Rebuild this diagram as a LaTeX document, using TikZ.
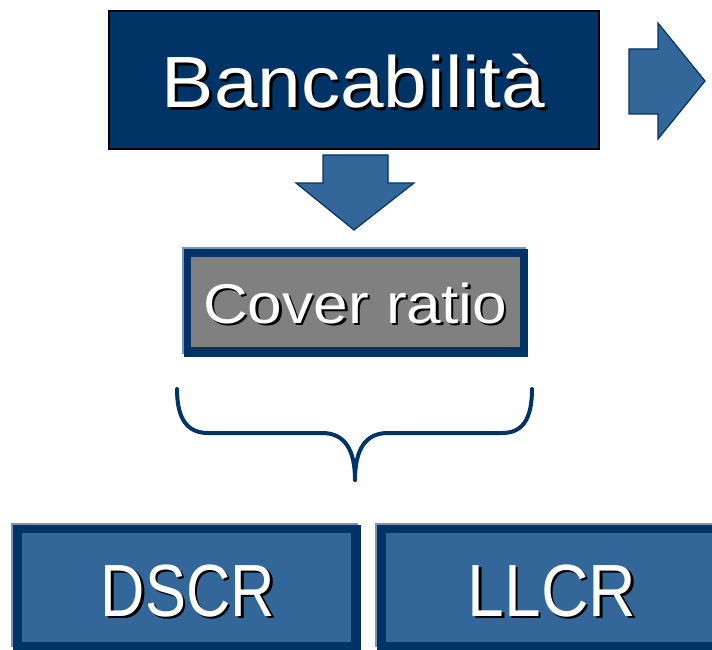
\documentclass[tikz,border=0pt]{standalone}
\usepackage{fontspec}
\setmainfont{Liberation Sans}
\definecolor{navy}{RGB}{0,51,102}
\definecolor{steel}{RGB}{51,102,153}
\definecolor{edgeblue}{RGB}{120,150,185}
\definecolor{greyfill}{RGB}{128,128,128}

% white text with a black drop shadow, set in one box: x-stretch, text
\newcommand\shadowed[2]{%
  \makebox[0pt][l]{\hspace{2.5pt}\raisebox{-2.5pt}{\color{black}\scalebox{#1}[1]{#2}}}%
  \scalebox{#1}[1]{#2}}

\begin{document}
\begin{tikzpicture}[x=1pt,y=-1pt,
  labeltext/.style={anchor=base, inner sep=0pt, outer sep=0pt, text=white},
  box/.style={anchor=north west, inner sep=0pt, outer sep=0pt},
  blockarrow/.style={fill=steel, draw=navy, line width=1.2pt, line join=miter},
]
\useasboundingbox (0,0) rectangle (712,650);

% top box
\node[box, draw=black, line width=2pt, fill=navy, minimum width=490pt, minimum height=138pt] (bank) at (109,11) {};
\node[labeltext, font=\fontsize{72.6}{73}\selectfont] (banktext) at (353.5,108) {\shadowed{1.08}{Bancabilità}};

% block arrows
\coordinate (rightarrow) at (629,49);
\draw[blockarrow] (rightarrow) -- (658,49) -- (658,23) -- (705,81) -- (658,139) -- (658,114) -- (629,114) -- cycle;
\coordinate (downarrow) at (323,155);
\draw[blockarrow] (downarrow) -- (388,155) -- (388,183) -- (414,183) -- (354,230) -- (296,183) -- (323,183) -- cycle;

% cover ratio box
\node[box, fill=edgeblue, minimum width=344pt, minimum height=107pt] (coveredge) at (182,247) {};
\node[box, fill=navy, minimum width=344pt, minimum height=108pt] (coverframe) at (184,249) {};
\node[box, fill=greyfill, minimum width=329pt, minimum height=90pt] (cover) at (191,257) {};
\node[labeltext, font=\fontsize{56}{57}\selectfont] (covertext) at (355,323) {\shadowed{1.11}{Cover ratio}};

% brace
\coordinate (braceleft) at (177,389);
\coordinate (braceright) at (532,389);
\coordinate (bracetip) at (355,480);
\draw[navy, line width=4pt, line cap=round]
  (braceleft) .. controls (177,420) and (188,433) .. (208,433) -- (322,433)
  .. controls (345,433) and (355,450) .. (bracetip);
\draw[navy, line width=4pt, line cap=round]
  (bracetip) .. controls (355,450) and (365,433) .. (388,433) -- (502,433)
  .. controls (522,433) and (532,420) .. (braceright);

% bottom boxes
\node[box, fill=edgeblue, minimum width=347pt, minimum height=124pt] (dscredge) at (11,523) {};
\node[box, fill=navy, minimum width=348pt, minimum height=125pt] (dscrframe) at (13,525) {};
\node[box, fill=steel, minimum width=329pt, minimum height=109pt] (dscr) at (22,533) {};
\node[labeltext, font=\fontsize{74}{75}\selectfont] (dscrtext) at (188,616) {\shadowed{0.83}{DSCR}};

\node[box, fill=edgeblue, minimum width=340pt, minimum height=124pt] (llcredge) at (375,523) {};
\node[box, fill=navy, minimum width=340pt, minimum height=125pt] (llcrframe) at (377,525) {};
\node[box, fill=steel, minimum width=340pt, minimum height=109pt] (llcr) at (386,533) {};
\node[labeltext, font=\fontsize{74}{75}\selectfont] (llcrtext) at (552,616) {\shadowed{0.89}{LLCR}};
\end{tikzpicture}
\end{document}
